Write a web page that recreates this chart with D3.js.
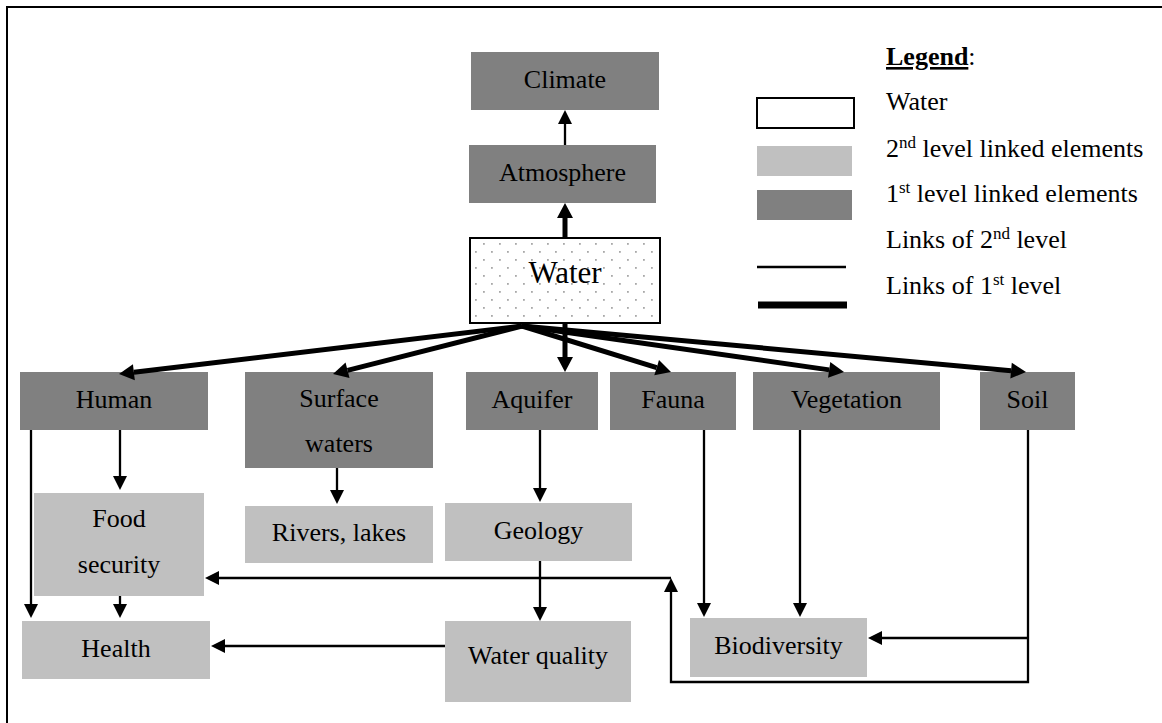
<!DOCTYPE html>
<html>
<head>
<meta charset="utf-8">
<script src="https://cdn.jsdelivr.net/npm/d3@7"></script>
<style>
  body { margin: 0; background: #fff; }
  svg { display: block; font-family: "Liberation Serif", "Times New Roman", serif; }
</style>
</head>
<body>
<svg id="chart" width="1162" height="723"></svg>
<script>
// elements of the diagram and their level (0 = water, 1 = first level, 2 = second level)
const nodeNames = ["Climate", "Atmosphere", "Water", "Human", "Surface waters", "Aquifer", "Fauna",
  "Vegetation", "Soil", "Food security", "Rivers, lakes", "Geology", "Health", "Water quality", "Biodiversity"];
const nodeLevels = [1, 1, 0, 1, 1, 1, 1, 1, 1, 2, 2, 2, 2, 2, 2];

// links: source -> target, with their level
const linkSources = ["Water", "Atmosphere", "Water", "Water", "Water", "Water", "Water", "Water",
  "Human", "Human", "Food security", "Surface waters", "Aquifer", "Geology", "Water quality",
  "Fauna", "Vegetation", "Soil", "Soil"];
const linkTargets = ["Atmosphere", "Climate", "Human", "Surface waters", "Aquifer", "Fauna", "Vegetation", "Soil",
  "Food security", "Health", "Health", "Rivers, lakes", "Geology", "Water quality", "Health",
  "Biodiversity", "Biodiversity", "Biodiversity", "Food security"];
const linkLevels = [1, 2, 1, 1, 1, 1, 1, 1, 2, 2, 2, 2, 2, 2, 2, 2, 2, 2, 2];

// legend entries
const legendLabels = [["Water"], ["2", "nd", " level linked elements"], ["1", "st", " level linked elements"],
  ["Links of 2", "nd", " level"], ["Links of 1", "st", " level"]];

// ---- layout (pixel boxes) ----
const box = {
  "Climate":        [471, 52, 659, 110],
  "Atmosphere":     [469, 145, 656, 203],
  "Water":          [470, 238, 660, 323],
  "Human":          [20, 372, 208, 430],
  "Surface waters": [245, 372, 433, 468],
  "Aquifer":        [466, 372, 598, 430],
  "Fauna":          [610, 372, 736, 430],
  "Vegetation":     [753, 372, 940, 430],
  "Soil":           [980, 372, 1075, 430],
  "Food security":  [34, 493, 204, 596],
  "Rivers, lakes":  [245, 506, 433, 563],
  "Geology":        [445, 503, 632, 561],
  "Health":         [22, 621, 210, 679],
  "Water quality":  [445, 621, 631, 702],
  "Biodiversity":   [690, 618, 867, 677]
};
// label lines and baselines
const labelLines = {
  "Surface waters": [["Surface", 407], ["waters", 452]],
  "Food security": [["Food", 527], ["security", 573]],
  "Water quality": [["Water quality", 664]]
};

const origin = [522, 326];
const route = {
  "Water>Atmosphere": [[565, 238], [565, 203]],
  "Atmosphere>Climate": [[565, 145], [565, 110]],
  "Water>Human": [origin, [119, 374]],
  "Water>Surface waters": [origin, [333, 374]],
  "Water>Aquifer": [[565, 323], [565, 372]],
  "Water>Fauna": [origin, [671, 372]],
  "Water>Vegetation": [origin, [844, 372]],
  "Water>Soil": [origin, [1026, 372]],
  "Human>Food security": [[120, 430], [120, 490]],
  "Human>Health": [[31, 430], [31, 618]],
  "Food security>Health": [[120, 596], [120, 618]],
  "Surface waters>Rivers, lakes": [[337, 468], [337, 504]],
  "Aquifer>Geology": [[540, 430], [540, 502]],
  "Geology>Water quality": [[540, 561], [540, 621]],
  "Water quality>Health": [[445, 646], [211, 646]],
  "Fauna>Biodiversity": [[704, 430], [704, 617]],
  "Vegetation>Biodiversity": [[800, 430], [800, 617]],
  "Soil>Biodiversity": [[1028, 638], [868, 638]],
  "Soil>Food security": [[1028, 430], [1028, 682], [671, 682], [671, 578]]
};
const extraSegs = [[[671, 578], [205, 578]]]; // second leg of Soil -> Food security

const fillByLevel = { 0: "#fff", 1: "#808080", 2: "#c0c0c0" };
const widthByLevel = { 1: 5, 2: 2.3 };

const svg = d3.select("#chart");

// dot pattern for water
const defs = svg.append("defs");
const pat = defs.append("pattern").attr("id", "dots")
  .attr("patternUnits", "userSpaceOnUse").attr("width", 16).attr("height", 16)
  .attr("x", 3).attr("y", 3);
pat.append("rect").attr("x", 0).attr("y", 0).attr("width", 1.8).attr("height", 1.8).attr("fill", "#a8a8a8");
pat.append("rect").attr("x", 8).attr("y", 8).attr("width", 1.8).attr("height", 1.8).attr("fill", "#a8a8a8");

// outer frame (right / bottom edge outside the picture)
svg.append("rect").attr("x", 7).attr("y", 7).attr("width", 1180).attr("height", 740)
  .attr("fill", "none").attr("stroke", "#000").attr("stroke-width", 2);

const nodes = nodeNames.map((name, i) => ({ name, level: nodeLevels[i], b: box[name] }));

// boxes
const g = svg.append("g");
g.selectAll("rect.node").data(nodes).join("rect")
  .attr("class", "node")
  .attr("x", d => d.b[0]).attr("y", d => d.b[1])
  .attr("width", d => d.b[2] - d.b[0]).attr("height", d => d.b[3] - d.b[1])
  .attr("fill", d => d.level === 0 ? "url(#dots)" : fillByLevel[d.level])
  .attr("stroke", d => d.level === 0 ? "#000" : "none")
  .attr("stroke-width", 2);

// labels
g.selectAll("g.lab").data(nodes).join("g").attr("class", "lab").each(function (d) {
  const cx = (d.b[0] + d.b[2]) / 2;
  const lines = labelLines[d.name] || [[d.name, d.level === 0 ? 283 : (d.b[1] + d.b[3]) / 2 + 6.5]];
  d3.select(this).selectAll("text").data(lines).join("text")
    .attr("x", cx).attr("y", l => l[1])
    .attr("text-anchor", "middle")
    .attr("font-size", d.level === 0 ? 31 : 26)
    .attr("fill", "#000")
    .text(l => l[0]);
});

// arrows
function head(p, q, w, len) {
  const dx = q[0] - p[0], dy = q[1] - p[1], L = Math.hypot(dx, dy);
  const ux = dx / L, uy = dy / L;
  const bx = q[0] - ux * len, by = q[1] - uy * len;
  return [[q[0], q[1]], [bx - uy * w / 2, by + ux * w / 2], [bx + uy * w / 2, by - ux * w / 2]];
}

const links = linkSources.map((s, i) => ({
  level: linkLevels[i],
  pts: route[s + ">" + linkTargets[i]]
}));

const lineGen = d3.line();
const la = svg.append("g");
links.forEach(l => {
  const pts = l.pts;
  const n = pts.length;
  const hw = l.level === 1 ? 16 : 14, hl = l.level === 1 ? 15 : 14;
  const hd = head(pts[n - 2], pts[n - 1], hw, hl);
  // shorten last segment so the line ends inside the head
  const trimmed = pts.slice(0, n - 1).concat([[(hd[1][0] + hd[2][0]) / 2, (hd[1][1] + hd[2][1]) / 2]]);
  la.append("path").attr("d", lineGen(trimmed)).attr("fill", "none")
    .attr("stroke", "#000").attr("stroke-width", widthByLevel[l.level]);
  la.append("path").attr("d", lineGen(hd) + "Z").attr("fill", "#000");
});
extraSegs.forEach(pts => {
  const hd = head(pts[0], pts[1], 14, 14);
  la.append("path").attr("d", lineGen([pts[0], [(hd[1][0] + hd[2][0]) / 2, (hd[1][1] + hd[2][1]) / 2]]))
    .attr("fill", "none").attr("stroke", "#000").attr("stroke-width", 2.3);
  la.append("path").attr("d", lineGen(hd) + "Z").attr("fill", "#000");
});

// legend
const lg = svg.append("g").attr("font-size", 26);
const title = lg.append("text").attr("x", 886).attr("y", 65);
title.append("tspan").attr("font-weight", "bold").attr("text-decoration", "underline").text("Legend");
title.append("tspan").text(":");

const legendY = [110, 157, 202, 248, 294];
lg.selectAll("text.item").data(legendLabels).join("text")
  .attr("class", "item")
  .attr("x", 886).attr("y", (d, i) => legendY[i])
  .each(function (parts) {
    const t = d3.select(this);
    parts.forEach((p, j) => {
      const ts = t.append("tspan").text(p);
      if (j === 1) ts.attr("font-size", 17).attr("baseline-shift", "super");
    });
  });

// legend symbols
lg.append("rect").attr("x", 757).attr("y", 98).attr("width", 97).attr("height", 30)
  .attr("fill", "#fff").attr("stroke", "#000").attr("stroke-width", 2);
lg.append("rect").attr("x", 757).attr("y", 146).attr("width", 95).attr("height", 30).attr("fill", fillByLevel[2]);
lg.append("rect").attr("x", 757).attr("y", 190).attr("width", 95).attr("height", 30).attr("fill", fillByLevel[1]);
lg.append("line").attr("x1", 757).attr("x2", 846).attr("y1", 267).attr("y2", 267)
  .attr("stroke", "#000").attr("stroke-width", 2.5);
lg.append("line").attr("x1", 758).attr("x2", 847).attr("y1", 305).attr("y2", 305)
  .attr("stroke", "#000").attr("stroke-width", 7);
</script>
</body>
</html>
